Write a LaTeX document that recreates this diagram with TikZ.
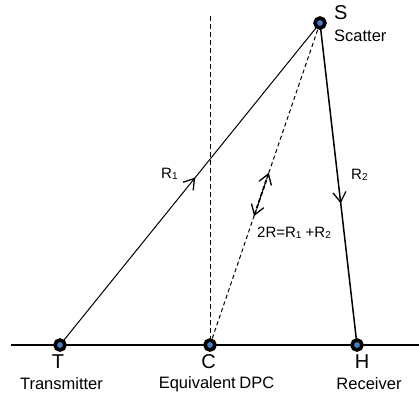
\documentclass[tikz,border=0pt]{standalone}
\usepackage{fontspec}
\setmainfont{Liberation Sans}
\usetikzlibrary{arrows.meta,decorations.markings,calc}
\definecolor{dotblue}{RGB}{70,125,195}
\tikzset{
  dotnode/.style={circle,draw=black,line width=3.6pt,fill=dotblue,inner sep=0pt,minimum size=10pt},
  letter/.style={font=\fontsize{20}{20}\selectfont,inner sep=0pt},
  caption/.style={font=\fontsize{16.5}{17}\selectfont,inner sep=0pt},
  rlabel/.style={font=\fontsize{15}{15}\selectfont,inner sep=0pt,anchor=west},
  barb/.tip={Straight Barb[length=10pt,width=13pt,line width=1.3pt]},
  midarrow/.style={postaction={decorate},decoration={markings,mark=at position #1 with {\arrow{barb}}}},
}
\newcommand{\subnum}[1]{\raisebox{-1.5pt}{\fontsize{10}{10}\selectfont #1}}
\begin{document}
\begin{tikzpicture}[x=1pt,y=-1pt]
\useasboundingbox (0,0) rectangle (419,398);
\coordinate (T) at (60,345);
\coordinate (C) at (210,345);
\coordinate (H) at (357,345);
\coordinate (S) at (320,23);
\coordinate (Lend) at (11,345);
\coordinate (Rend) at (419,345);
\coordinate (Vtop) at (210,16);
% lines
\draw[line width=1.4pt] (Lend) -- (Rend);
\draw[line width=1pt,dash pattern=on 5pt off 3pt] (Vtop) -- (C);
\draw[line width=1pt,midarrow=0.52] (T) -- (S);
\draw[line width=1.5pt,midarrow=0.56] (S) -- (H);
\draw[line width=1pt,dash pattern=on 4pt off 3pt] (C) -- (S);
\draw[line width=1.8pt,dash pattern=on 4pt off 2.5pt,barb-barb] ($(C)!0.40!(S)$) -- ($(C)!0.535!(S)$);
% dots
\node[dotnode] (Tdot) at (T) {};
\node[dotnode] (Cdot) at (C) {};
\node[dotnode] (Hdot) at (H) {};
\node[dotnode] (Sdot) at (S) {};
% labels
\node[letter] (Tl) at (58,362) {T};
\node[caption] (Tc) at (61.5,384) {Transmitter};
\node[letter] (Cl) at (208.5,362) {C};
\node[caption] (Cc) at (216.5,384) {Equivalent\hspace{-1pt} DPC};
\node[letter] (Hl) at (362,362) {H};
\node[caption] (Hc) at (369,384) {Receiver};
\node[letter,anchor=west] (Sl) at (334,12.5) {S};
\node[caption,anchor=west] (Sc) at (334,36) {Scatter};
\node[rlabel] (R1) at (161,174) {R\subnum{1}};
\node[rlabel] (R2) at (351,175) {R\subnum{2}};
\node[rlabel] (Eq) at (257,233) {2R=R\subnum{1} +R\subnum{2}};
\end{tikzpicture}
\end{document}
